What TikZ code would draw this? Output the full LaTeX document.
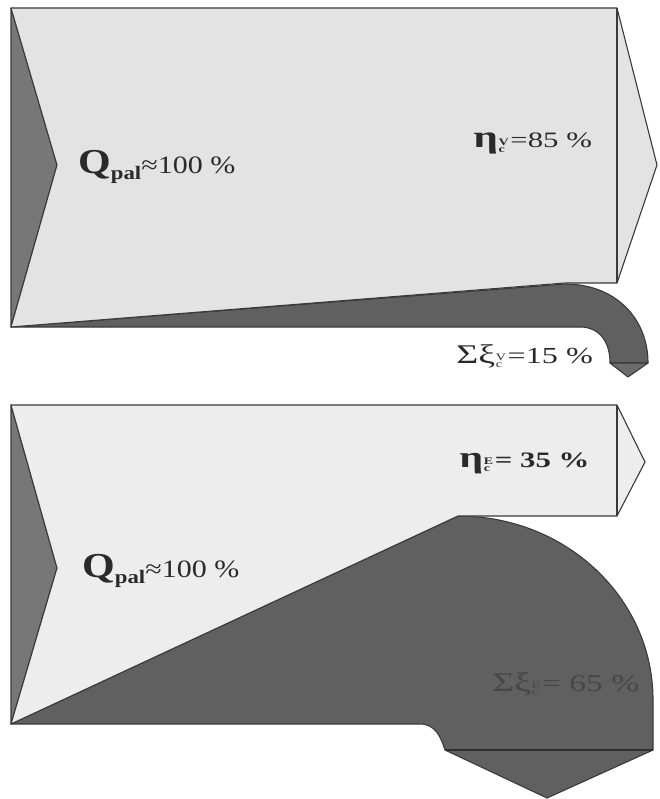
\documentclass[tikz,border=0pt]{standalone}
\usepackage{fontspec}
\setmainfont{Liberation Serif}
\newcommand{\SupSubV}[2]{{\fontsize{10}{11}\selectfont\hspace{0.05em}\raisebox{-0.45em}{\shortstack[l]{#1\\[-0.1em]#2}}\hspace{0.12em}}}
\definecolor{lightA}{HTML}{E3E3E3}
\definecolor{lightB}{HTML}{EDEDED}
\definecolor{darkfill}{HTML}{606060}
\definecolor{notch}{HTML}{777777}
\definecolor{tipfill}{HTML}{6B6B6B}
\definecolor{edge}{HTML}{3A3A3A}
\definecolor{txt}{HTML}{2A2A2A}
\definecolor{txtdark}{HTML}{474747}
\tikzset{
  outline/.style={draw=edge, line width=1.1pt, line join=round},
  label/.style={inner sep=0pt, anchor=base west, text=txt, xscale=1.2},
  widelabel/.style={inner sep=0pt, anchor=base west, text=txt, xscale=1.4},
}
\begin{document}
\begin{tikzpicture}[x=1pt,y=-1pt]
\useasboundingbox (0,0) rectangle (659,799);
% ---------- top diagram ----------
\fill[notch, outline] (11,8) -- (57,165) -- (11,327) -- cycle;
\fill[darkfill, outline] (11,327) -- (565,284)
  .. controls (615,284) and (648,318) .. (648,363)
  -- (610,363)
  .. controls (610,340) and (598,327) .. (580,327) -- cycle;
\fill[tipfill, outline] (610,363) -- (648,363) -- (628,377) -- cycle;
\fill[lightA, outline] (11,8) -- (617,8) -- (657,165) -- (617,283) -- (565,283) -- (11,327) -- (57,165) -- cycle;
\draw[edge, line width=1.1pt] (617,8) -- (617,283);
% ---------- bottom diagram ----------
\fill[notch, outline] (11,405) -- (57,568) -- (11,724) -- cycle;
\fill[darkfill, outline] (11,724) -- (458,516)
  .. controls (566,516) and (653,598) .. (653,700)
  -- (653,750) -- (547,798) -- (445,750)
  .. controls (441,738) and (436,724) .. (420,724) -- cycle;
\draw[edge!80!black, line width=1.6pt] (445,750) -- (653,750);
\fill[lightB, outline] (11,405) -- (617,405) -- (645,462) -- (617,516) -- (458,516) -- (11,724) -- (57,568) -- cycle;
\draw[edge, line width=1.1pt] (617,405) -- (617,516);
% ---------- texts ----------
\node[label] (q1) at (78,174) {{\fontsize{35}{35}\selectfont\bfseries Q}\raisebox{-6pt}{\fontsize{19}{19}\selectfont\bfseries pal}{\fontsize{25}{25}\selectfont ≈100~\%}};
\node[widelabel] (eta1) at (473,148) {{\fontsize{31}{31}\selectfont\bfseries η}\SupSubV{\bfseries V}{\bfseries c}{\fontsize{22}{22}\selectfont =85~\%}};
\node[widelabel] (xi1) at (456,363) {{\fontsize{27}{27}\selectfont Σξ}\SupSubV{V}{c}{\fontsize{23}{23}\selectfont =15~\%}};
\node[widelabel] (eta2) at (459,467) {\bfseries{\fontsize{30}{30}\selectfont η}\SupSubV{E}{c}{\fontsize{22}{22}\selectfont = 35~\%}};
\node[label] (q2) at (82,577) {{\fontsize{35}{35}\selectfont\bfseries Q}\raisebox{-6pt}{\fontsize{19}{19}\selectfont\bfseries pal}{\fontsize{25}{25}\selectfont ≈100~\%}};
\node[widelabel, text=txtdark] (xi2) at (492,691) {{\fontsize{27}{27}\selectfont Σξ}\SupSubV{E}{c}{\fontsize{24}{24}\selectfont = 65~\%}};
\end{tikzpicture}
\end{document}
